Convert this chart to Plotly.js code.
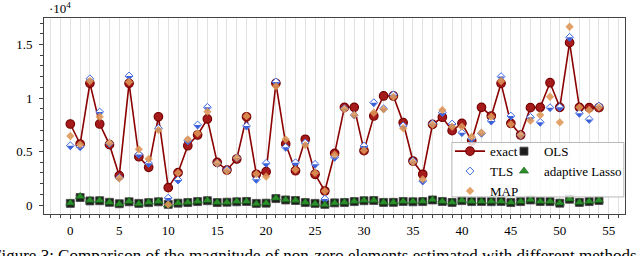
<!DOCTYPE html>
<html>
<head>
<meta charset="utf-8">
<script src="https://cdn.plot.ly/plotly-3.0.1.min.js"></script>
<style>html,body{margin:0;padding:0;background:#fff;}#chart{width:640px;height:256px;}</style>
</head>
<body>
<div id="chart"></div>
<script>
// ---- data (raw magnitudes; axis shows units of 10^4) ----
const idx = Array.from({length: 55}, (_, i) => i);
const exact = [7570,5700,11370,7570,5640,2740,11370,4510,3520,8250,1620,3020,5540,6540,8040,3990,3270,4300,8250,2870,3110,11370,5700,3200,6140,2870,1310,4830,9130,9130,5080,8320,10190,10190,7700,4110,2870,7540,8200,6950,7630,6000,9130,8320,11370,7630,6540,9100,9130,11430,9130,15170,9130,9100,9100];
const tls = [5540,5450,11800,8690,5760,2550,12060,4730,3900,7170,650,2340,6000,7480,9130,3900,3300,4400,7380,2400,3900,11500,5390,3950,5800,3800,560,4460,9000,8400,5510,9560,9000,10300,7400,4100,2240,7600,8630,7570,6760,6200,6700,7850,12000,8320,6540,8200,7730,9100,9130,15670,8570,8000,9250];
const map = [6450,5650,11590,8250,5800,2490,11500,5200,4300,7000,50,3000,6140,6700,8720,3900,3180,4400,8300,2900,2650,11100,6140,3300,5600,3000,1300,4700,8950,8400,5100,8620,8940,10100,7170,4000,2400,7500,8880,7320,7320,6380,6750,8250,11590,7540,6540,7880,8400,10120,7730,16660,9130,8880,9130];
const ols = [150,700,380,400,250,120,300,150,220,300,60,170,230,320,400,230,260,300,330,150,170,600,470,420,230,150,60,200,230,320,400,420,240,250,330,300,320,470,330,240,410,320,330,310,330,230,320,470,330,320,170,540,240,320,420];
const lasso = [190,800,440,440,250,90,340,120,250,340,30,190,250,340,440,250,250,340,340,120,190,650,500,440,250,120,30,190,250,340,440,440,250,250,340,340,340,500,340,250,440,340,340,340,340,250,340,500,340,340,190,560,250,340,440];
const xTickVals = [0,5,10,15,20,25,30,35,40,45,50,55];
const yTickVals = [0,5000,10000,15000];
const yTickText = ['0','0.5','1','1.5'];

const serif = 'Liberation Serif';

const traces = [
  {x: idx, y: exact, name: 'exact', type: 'scatter', mode: 'lines+markers', legend: 'legend',
   line: {color: '#8b0000', width: 1.6},
   marker: {symbol: 'circle', size: 8.5, color: '#a51a1a', line: {color: '#760000', width: 1.2}}},
  {x: idx, y: ols, name: 'OLS', type: 'scatter', mode: 'markers', legend: 'legend2',
   marker: {symbol: 'square', size: 8, color: '#1e1e1e', line: {color: 'rgba(70,70,70,0.8)', width: 1}}},
  {x: idx, y: tls, name: 'TLS', type: 'scatter', mode: 'markers', legend: 'legend',
   marker: {symbol: 'diamond', size: 6, color: '#ffffff', line: {color: '#4169e1', width: 1}}},
  {x: idx, y: tls, name: 'TLS', type: 'scatter', mode: 'markers', showlegend: false,
   marker: {symbol: 'triangle-down', size: 5.6, standoff: 1.4, color: '#3a5fd9', line: {width: 0}}},
  {x: idx, y: lasso, name: 'adaptive Lasso', type: 'scatter', mode: 'markers', legend: 'legend2',
   marker: {symbol: 'triangle-up', size: 8, color: '#2b8f2b', line: {color: '#165c16', width: 0.6}}},
  {x: idx, y: map, name: 'MAP', type: 'scatter', mode: 'markers', legend: 'legend',
   marker: {symbol: 'diamond', size: 6.4, color: 'rgba(222,150,85,0.88)', line: {width: 0}}}
];

const legendCommon = {
  xanchor: 'left', yanchor: 'top', bgcolor: 'rgba(0,0,0,0)', borderwidth: 0,
  font: {family: serif, size: 13, color: '#000'}, tracegroupgap: 0
};

const layout = {
  width: 640, height: 256, autosize: false,
  margin: {l: 44, r: 15, t: 18, b: 42, pad: 0},
  paper_bgcolor: '#ffffff', plot_bgcolor: '#ffffff',
  showlegend: true,
  legend: Object.assign({x: 0.6988, y: 0.397}, legendCommon),
  legend2: Object.assign({x: 0.7917, y: 0.397}, legendCommon),
  xaxis: {
    range: [-2.69, 56.66], tickmode: 'array', tickvals: xTickVals,
    ticks: 'outside', ticklen: 4, tickwidth: 1, tickcolor: '#444',
    showgrid: true, gridcolor: '#e1e1e1', gridwidth: 1, zeroline: false,
    showline: true, mirror: true, linecolor: '#444', linewidth: 1,
    tickfont: {family: serif, size: 13, color: '#000'},
    minor: {dtick: 1, tick0: 0, ticks: 'outside', ticklen: 3, tickcolor: '#444', showgrid: true, gridcolor: '#e1e1e1', gridwidth: 1}
  },
  yaxis: {
    range: [-841, 17477], tickmode: 'array', tickvals: yTickVals, ticktext: yTickText,
    ticks: 'outside', ticklen: 4, tickwidth: 1, tickcolor: '#444', ticklabelstandoff: 4,
    showgrid: false, zeroline: false,
    showline: true, mirror: true, linecolor: '#444', linewidth: 1,
    tickfont: {family: serif, size: 13, color: '#000'},
    minor: {dtick: 1000, tick0: 0, ticks: 'outside', ticklen: 3, tickcolor: '#444', showgrid: false}
  },
  shapes: [
    {type: 'rect', xref: 'paper', yref: 'paper', x0: 0.702, x1: 0.998, y0: 0.087, y1: 0.365,
     fillcolor: 'rgba(255,255,255,0.82)', line: {color: '#b8b8b8', width: 1}, layer: 'above'}
  ],
  annotations: [
    {xref: 'paper', yref: 'paper', x: 0.005, y: 1.052, xanchor: 'left', yanchor: 'middle',
     text: '·10<sup>4</sup>', showarrow: false, font: {family: serif, size: 13, color: '#000'}},
    {xref: 'paper', yref: 'paper', x: -0.093, y: -0.153, xanchor: 'left', yanchor: 'top',
     text: 'Figure 3: Comparison of the magnitude of non-zero elements estimated with different methods',
     showarrow: false, font: {family: serif, size: 17, color: '#000'}}
  ]
};

Plotly.newPlot('chart', traces, layout, {staticPlot: true, displayModeBar: false});
</script>
</body>
</html>
